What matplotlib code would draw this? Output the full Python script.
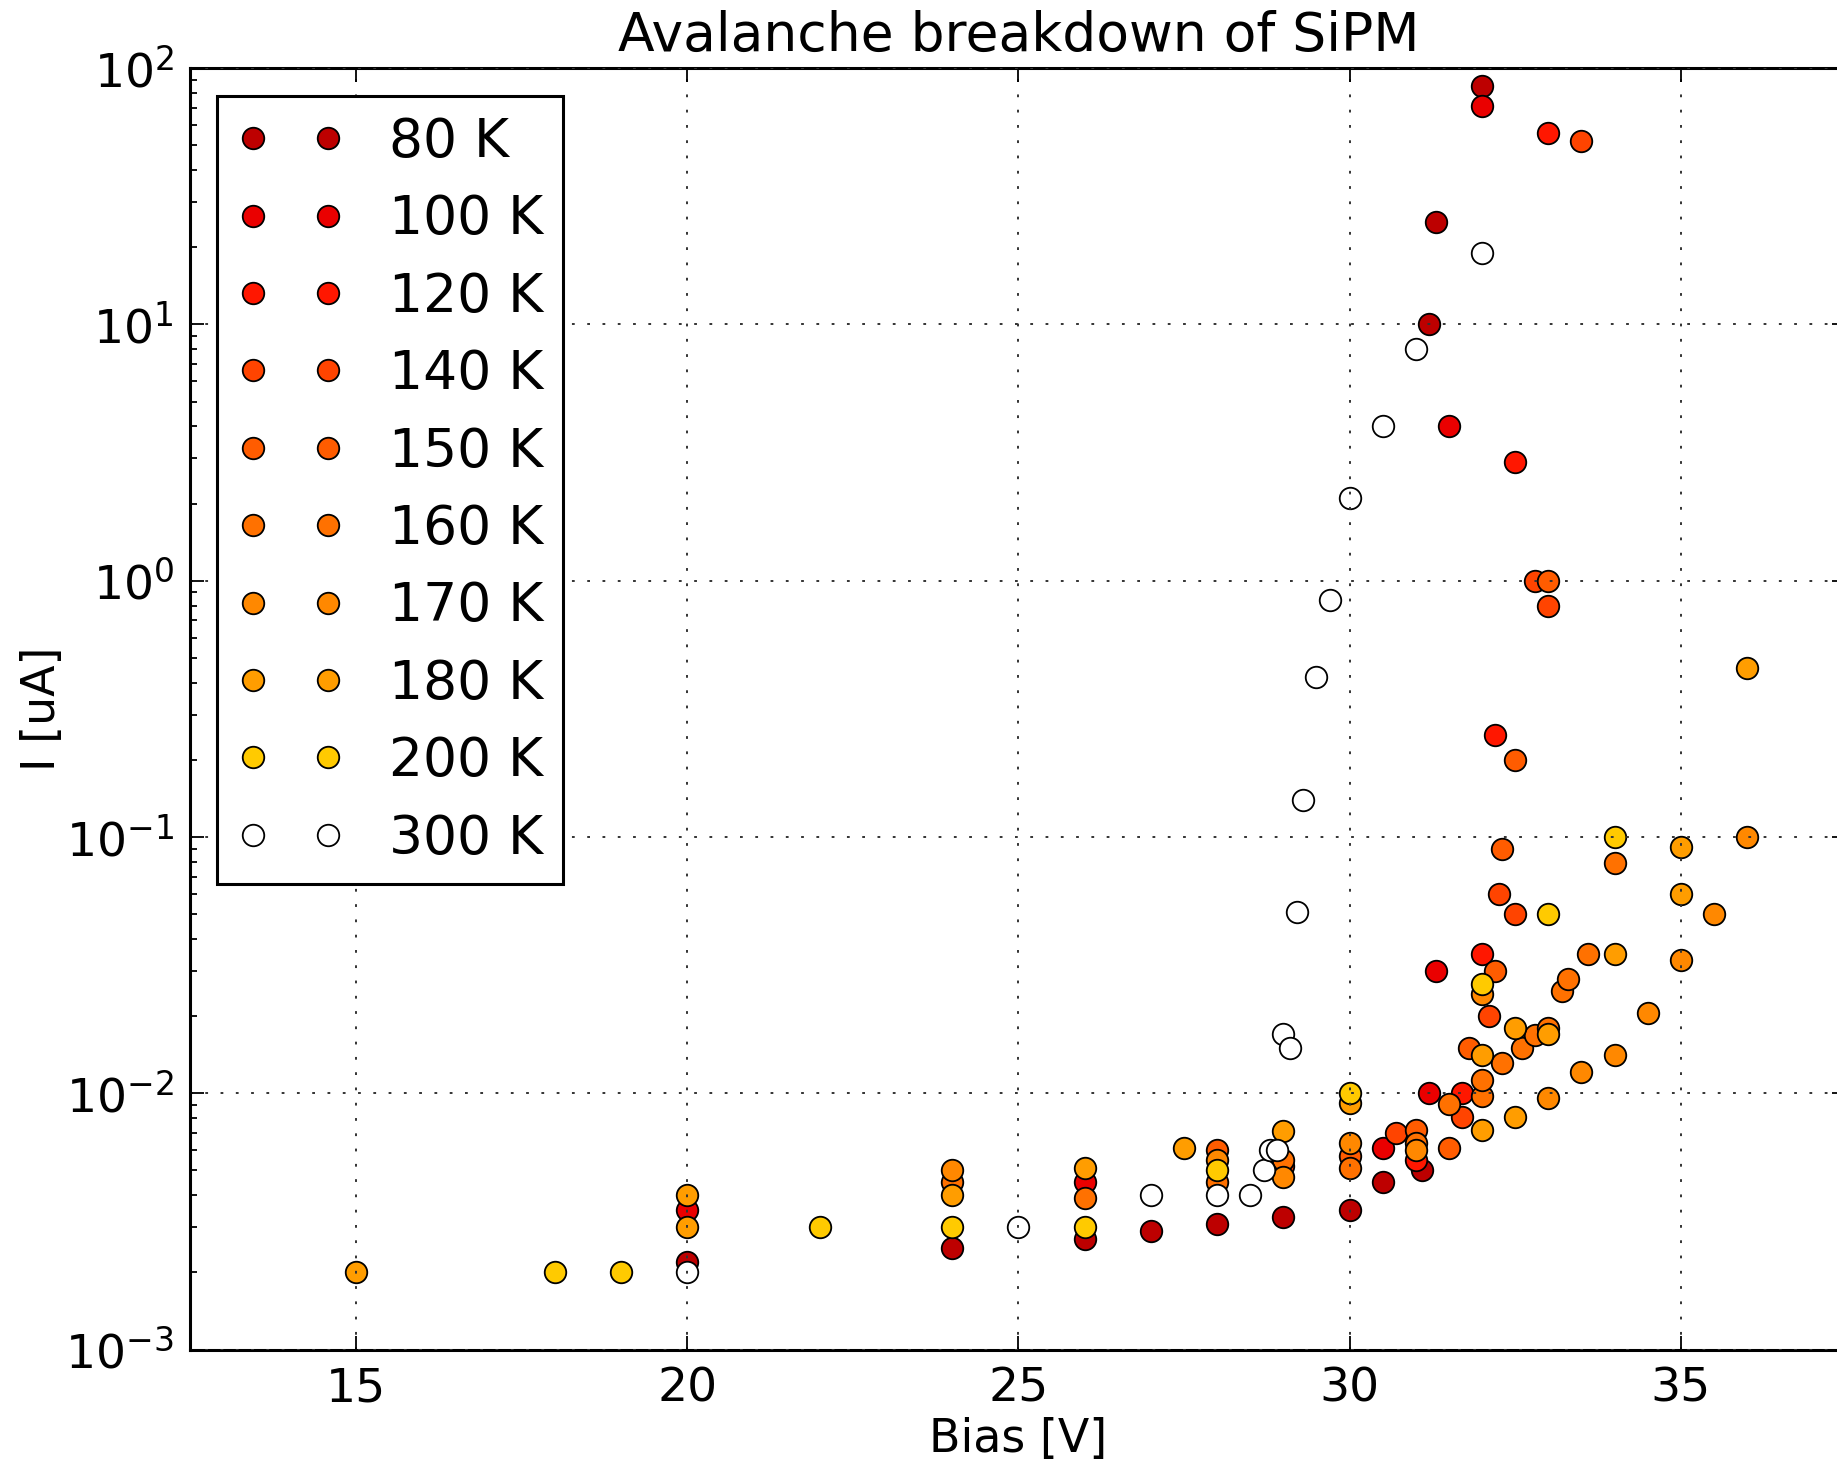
import matplotlib
matplotlib.use('Agg')
from matplotlib import pyplot as plt

# bias [V] / current [uA] per temperature
temps = [80, 100, 120, 140, 150, 160, 170, 180, 200, 300]

v80 = [20, 24, 26, 27, 28, 29, 30, 30.5, 31.1, 31.2, 31.3, 32]
i80 = [0.0022, 0.0025, 0.0027, 0.0029, 0.0031, 0.0033, 0.0035, 0.0045, 0.005, 10, 25, 85]

v100 = [20, 26, 30.5, 31.2, 31.3, 31.5, 32]
i100 = [0.0035, 0.0045, 0.0061, 0.01, 0.03, 4.0, 71]

v120 = [31, 31.7, 32, 32.2, 32.5, 33]
i120 = [0.0055, 0.01, 0.035, 0.25, 2.9, 56]

v140 = [29, 30.7, 31.7, 32.1, 32.25, 32.5, 32.8, 33, 33.5]
i140 = [0.0052, 0.007, 0.0081, 0.02, 0.06, 0.05, 1.0, 0.8, 52]

v150 = [28, 30, 31, 31.5, 31.8, 32.2, 32.3, 32.5, 33]
i150 = [0.006, 0.0057, 0.0072, 0.0061, 0.015, 0.03, 0.09, 0.2, 1.0]

v160 = [24, 26, 28, 29, 30, 31, 31.5, 32, 32, 32.3, 32.6, 32.8, 33, 33.2, 33.3, 33.6, 34]
i160 = [0.0045, 0.0039, 0.0045, 0.0055, 0.0051, 0.0064, 0.0091, 0.0098, 0.0113, 0.0131, 0.015,
        0.0169, 0.018, 0.025, 0.028, 0.035, 0.079]

v170 = [24, 28, 29, 30, 31, 32, 33, 33.5, 34, 34.5, 35, 35.5, 36]
i170 = [0.005, 0.0055, 0.0047, 0.0064, 0.006, 0.0245, 0.0096, 0.0121, 0.0141, 0.0205, 0.033, 0.05, 0.1]

v180 = [15, 20, 20, 24, 26, 27.5, 29, 30, 32, 32, 32.5, 32.5, 33, 34, 35, 35, 36]
i180 = [0.002, 0.004, 0.003, 0.004, 0.0051, 0.0061, 0.0071, 0.0092, 0.0072, 0.0141, 0.0081,
        0.018, 0.0171, 0.035, 0.06, 0.091, 0.455]

v200 = [18, 19, 22, 24, 26, 28, 30, 32, 33, 34]
i200 = [0.002, 0.002, 0.003, 0.003, 0.003, 0.005, 0.01, 0.0268, 0.05, 0.1]

v300 = [20, 25, 27, 28, 28.5, 28.7, 28.8, 28.9, 29, 29.1, 29.2, 29.3, 29.5, 29.7, 30, 30.5, 31, 32]
i300 = [0.002, 0.003, 0.004, 0.004, 0.004, 0.005, 0.006, 0.006, 0.017, 0.015, 0.051, 0.14,
        0.42, 0.84, 2.1, 4.0, 8.0, 19]

volts = [v80, v100, v120, v140, v150, v160, v170, v180, v200, v300]
currents = [i80, i100, i120, i140, i150, i160, i170, i180, i200, i300]

plt.rcParams['font.family'] = ['DejaVu Sans']
plt.rcParams['lines.scale_dashes'] = False

fig = plt.figure(figsize=(18.37, 14.63), dpi=100)
ax = fig.add_axes([0.1037, 0.0775, 0.9014, 0.876])

cmap = plt.get_cmap('hot')
for T, v, i in zip(temps, volts, currents):
    ax.plot(v, i, 'o', color=cmap(T / 300.0), markeredgecolor='black',
            markeredgewidth=1.3, markersize=15.5, label='%d K' % T)

ax.set_yscale('log')
ax.set_xlim(12.5, 37.5)
ax.set_ylim(1e-3, 1e2)
ax.set_xticks([15, 20, 25, 30, 35])

ax.set_axisbelow(False)
ax.grid(True, which='major', color='#333333', linestyle=(0, (2, 9)), linewidth=1.4)

ax.tick_params(which='both', direction='in', top=True, right=True, labelsize=34, width=1.3)
ax.tick_params(which='major', length=10, pad=12)
ax.tick_params(which='minor', length=5)
for s in ax.spines.values():
    s.set_linewidth(2.2)

ax.set_title('Avalanche breakdown of SiPM', fontsize=38.5, pad=12)
ax.set_xlabel('Bias [V]', fontsize=33, labelpad=4)
ax.set_ylabel('I [uA]', fontsize=33, labelpad=0)

leg = ax.legend(loc='upper left', bbox_to_anchor=(0.0159, 0.978), borderaxespad=0,
                numpoints=2, fontsize=38.5, labelspacing=0.475, handlelength=2.0,
                handletextpad=0.85, borderpad=0.37, fancybox=False, framealpha=1)
leg.get_frame().set_edgecolor('black')
leg.get_frame().set_linewidth(2.2)

plt.savefig('out.png', dpi=100)
